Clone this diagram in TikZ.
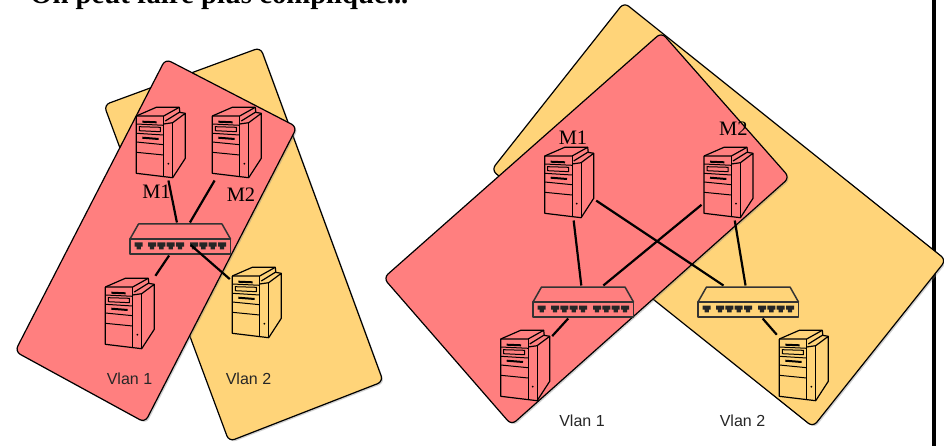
\documentclass[tikz,border=0pt]{standalone}
\usepackage{fontspec}
\setmainfont{Liberation Serif}
\newfontfamily\vlanfont{Liberation Sans}
\usetikzlibrary{shadows}
\definecolor{vlanredcol}{HTML}{FF7F7F}
\definecolor{vlanyelcol}{HTML}{FFD479}
\tikzset{
  vlanpanel/.style={draw=black, line width=1.2pt, rounded corners=6pt,
    drop shadow={shadow xshift=1.5pt, shadow yshift=-1.5pt, opacity=.35}},
  serverbox/.style={minimum width=49pt, minimum height=70.7pt, outer sep=2.5pt, inner sep=0pt},
  switchbox/.style={minimum width=100.5pt, minimum height=30pt, outer sep=1.5pt, inner sep=0pt},
  netlink/.style={line width=2.2pt, black},
  vlanlabel/.style={font=\vlanfont\fontsize{16}{18}\selectfont, text=black!85},
  hostlabel/.style={font=\fontsize{20.5}{22}\selectfont},
}
\newcommand{\netserver}[3]{
\begin{scope}[shift={(#2,#3)}]
\node[serverbox] (#1) at (24.5,26.65) {};
\draw[line width=1.2pt, line join=round] (0,0) -- (20,-8.7) -- (43,-8.7) -- (43.5,-3.7);
\draw[line width=1.2pt, line join=round] (0,0) -- (27.4,0) -- (43,-8.7);
\draw[line width=1.2pt, line join=round] (0,0) -- (0,57.3) -- (36.4,61.7) -- (49,42.3) -- (49,-2.7) -- (36.4,6.7) -- (27.4,8);
\draw[line width=1.2pt] (27.4,0) -- (27.4,60.7);
\draw[line width=1.2pt] (36.4,6.7) -- (36.4,61.7);
\draw[line width=1.2pt] (49,-2.7) -- (43,-3.7) -- (29,5);
\draw[line width=1pt] (0,8) -- (27.4,9.3);
\draw[line width=1pt] (0,17.3) -- (27.4,19);
\draw[line width=1pt] (0,26) -- (27.4,28.7);
\draw[line width=1pt] (0,36.3) -- (27.4,39);
\draw[line width=2pt] (6,5.7) -- (20.3,6.3);
\draw[line width=2pt] (6,21.7) -- (22.3,23);
\draw[line width=1pt] (3,10.7) -- (24,11.3) -- (24,15.7) -- (3,14.7) -- cycle;
\fill (32,47.7) circle (1);
\end{scope}
}
\newcommand{\netswitch}[3]{
\begin{scope}[shift={(#2,#3)}]
\node[switchbox] (#1) at (50.25,15) {};
\coordinate (#1p) at (60.7,21);
\draw[line width=1.5pt, black!80, line join=round] (0,15) -- (8.5,0) -- (92,0) -- (100.5,15) -- cycle;
\draw[line width=1.5pt, black!80, line join=round] (0,15) rectangle (100.5,30);
\foreach \portx in {8.7,22,31.3,40.7,50,64,73.3,82.7,92}
  \fill[black!85] (\portx-4,18.5) -- (\portx+4,18.5) -- (\portx+4,22.5) -- (\portx+2.2,22.5) -- (\portx+2.2,25.3) -- (\portx-2.2,25.3) -- (\portx-2.2,22.5) -- (\portx-4,22.5) -- cycle;
\end{scope}
}
\begin{document}
\begin{tikzpicture}[x=1pt, y=-1pt]
\useasboundingbox (0,0) rectangle (944,446);
\clip (0,0) rectangle (944,446);
\fill[white] (0,0) rectangle (944,446);
\node[anchor=base west, inner sep=0pt, font=\bfseries\fontsize{28.7}{32}\selectfont] (title) at (30,4) {On peut faire plus compliqué...};
\fill[black] (931.7,0) rectangle (935.7,446);
% left drawing
\path[vlanpanel, fill=vlanyelcol] (260.5,47.5) -- (383.2,381.5) -- (229,441.5) -- (104,105) -- cycle;
\path[vlanpanel, fill=vlanredcol] (165.5,59) -- (297,127) -- (145,422.5) -- (15,351.5) -- cycle;
\netserver{srvA}{136.3}{116}
\netserver{srvB}{212.3}{116}
\netserver{srvC}{105.3}{287}
\netserver{srvD}{232.3}{276}
\netswitch{swL}{130}{224}
\node[hostlabel] (lblA) at (156.5,192) {M1};
\node[hostlabel] (lblB) at (241,195) {M2};
\node[vlanlabel] (vlanA) at (129.5,379) {Vlan 1};
\node[vlanlabel] (vlanB) at (248.5,379) {Vlan 2};
\draw[netlink] (srvA) -- (swL);
\draw[netlink] (srvB) -- (swL);
\draw[netlink] (srvC) -- (swL);
\draw[netlink] (swLp) -- (srvD);
% right drawing
\path[vlanpanel, fill=vlanyelcol] (624,2.5) -- (946,260) -- (813,427) -- (491.5,170) -- cycle;
\path[vlanpanel, fill=vlanredcol] (661.5,32.5) -- (789.5,177.5) -- (511.5,425) -- (383.5,278) -- cycle;
\netserver{srvE}{544.7}{156}
\netserver{srvF}{704}{156}
\netserver{srvG}{500.7}{339}
\netserver{srvH}{779.3}{339}
\netswitch{swM}{533}{287}
\netswitch{swR}{698}{287}
\node[hostlabel] (lblE) at (573,138) {M1};
\node[hostlabel] (lblF) at (733.3,129) {M2};
\node[vlanlabel] (vlanE) at (582,421) {Vlan 1};
\node[vlanlabel] (vlanF) at (742.5,421) {Vlan 2};
\draw[netlink] (srvE) -- (swM);
\draw[netlink] (srvE) -- (swR);
\draw[netlink] (srvF) -- (swM);
\draw[netlink] (srvF) -- (swR);
\draw[netlink] (srvG) -- (swM);
\draw[netlink] (srvH) -- (swR);
\end{tikzpicture}
\end{document}
